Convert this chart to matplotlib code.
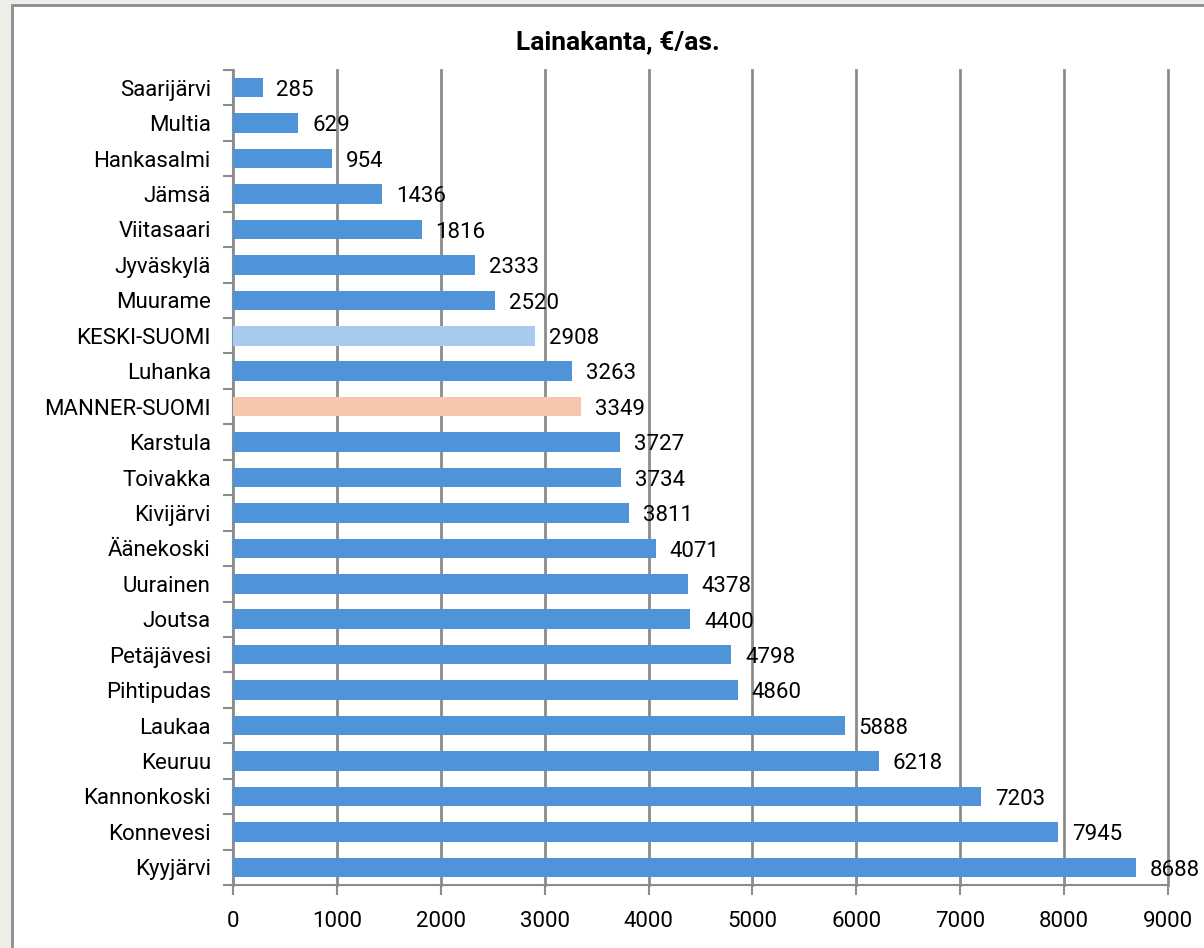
import matplotlib.pyplot as plt
import matplotlib.patches as mpatches
import numpy as np

categories = ["Saarijärvi", "Multia", "Hankasalmi", "Jämsä", "Viitasaari", "Jyväskylä",
              "Muurame", "KESKI-SUOMI", "Luhanka", "MANNER-SUOMI", "Karstula", "Toivakka",
              "Kivijärvi", "Äänekoski", "Uurainen", "Joutsa", "Petäjävesi", "Pihtipudas",
              "Laukaa", "Keuruu", "Kannonkoski", "Konnevesi", "Kyyjärvi"]
values = [285, 629, 954, 1436, 1816, 2333, 2520, 2908, 3263, 3349, 3727, 3734,
          3811, 4071, 4378, 4400, 4798, 4860, 5888, 6218, 7203, 7945, 8688]
xticks = [0, 1000, 2000, 3000, 4000, 5000, 6000, 7000, 8000, 9000]

BLUE = "#4F94D9"
LIGHT = "#A8CBED"
PEACH = "#F5C8AD"
colors = [LIGHT if c == "KESKI-SUOMI" else PEACH if c == "MANNER-SUOMI" else BLUE for c in categories]

plt.rcParams['font.family'] = ['Roboto', 'DejaVu Sans']
FS = 16

fig = plt.figure(figsize=(12.04, 9.48), dpi=100)
fig.patch.set_facecolor("#EFEDE8")
# white chart area with gray border
fig.add_artist(mpatches.Rectangle((12/1204, -0.01), 1.1, 1 - 5/948 + 0.01, transform=fig.transFigure,
                                  facecolor="white", edgecolor="#8C8C8C", linewidth=2, zorder=0))

ax = fig.add_axes([233/1204, 1 - 885/948, (1168 - 233)/1204, (885 - 70)/948])
ax.set_facecolor("none")
y = np.arange(len(categories))
ax.barh(y, values, height=0.55, color=colors, zorder=3)
ax.set_ylim(len(categories) - 0.5, -0.5)
ax.set_xlim(0, 9000)
ax.set_xticks(xticks)
ax.set_xticklabels([str(t) for t in xticks], fontsize=FS)
ax.set_yticks(y)
ax.set_yticklabels(categories, fontsize=FS)
ax.tick_params(axis='y', length=0, pad=16)
ax.set_yticks(np.arange(len(categories) + 1) - 0.5, minor=True)
ax.tick_params(axis='y', which='minor', length=7, color="#8C8C8C", width=1.5)
ax.tick_params(axis='x', length=7, color="#8C8C8C", width=1.5, pad=12)
ax.grid(axis='x', color="#8C8C8C", linewidth=2, zorder=1)
for gl in ax.get_xgridlines():
    gl.set_clip_on(False)
ax.spines["top"].set_visible(False)
ax.spines["right"].set_visible(False)
ax.spines["left"].set_color("#8C8C8C")
ax.spines["left"].set_linewidth(1.5)
ax.spines["bottom"].set_color("#8C8C8C")
ax.spines["bottom"].set_linewidth(1.5)

for yi, v in zip(y, values):
    ax.annotate(str(v), (v, yi), xytext=(10, -2), textcoords="offset points",
                va="center", ha="left", fontsize=FS, zorder=4)

fig.text(618/1204, 1 - 42/948, "Lainakanta, €/as.", ha="center", va="center",
         fontsize=19, fontweight="bold")

fig.savefig("out.png", dpi=100, facecolor=fig.get_facecolor())
